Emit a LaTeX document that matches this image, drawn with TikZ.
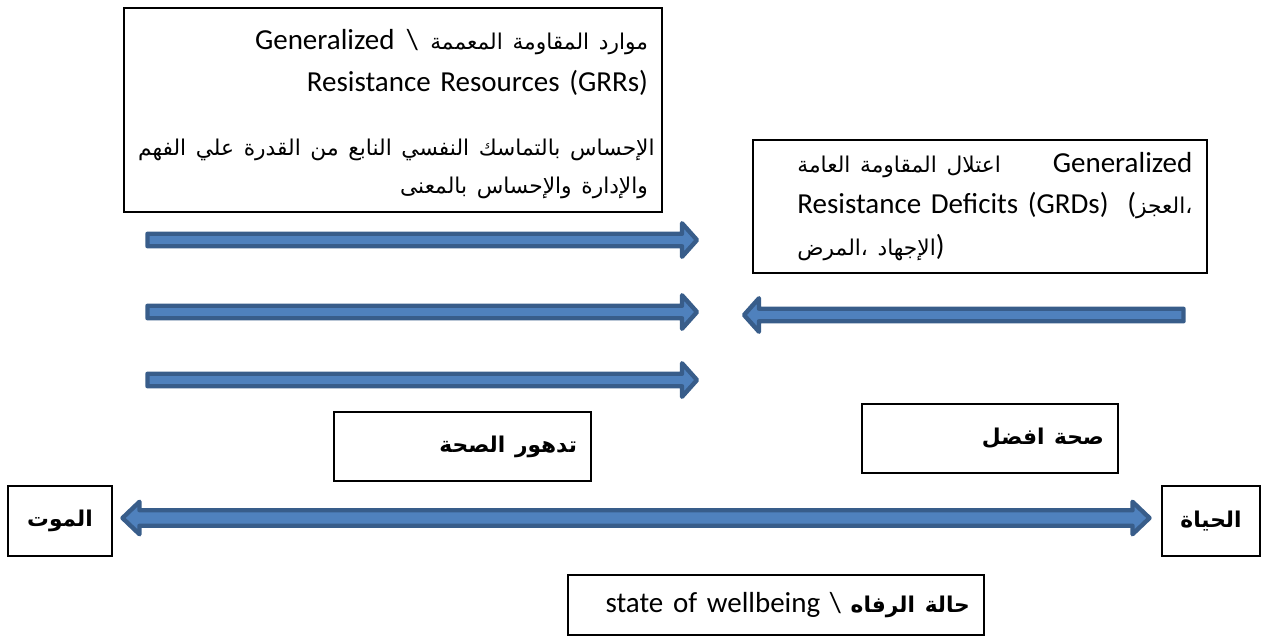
\documentclass[tikz,border=0pt]{standalone}
\usepackage{fontspec}
\setmainfont{Carlito}
\newfontfamily\arabicfont[Script=Arabic,Scale=0.75]{DejaVu Sans}
\TeXXeTstate=1
\usetikzlibrary{positioning}

\definecolor{arrowfill}{HTML}{4F81BD}
\definecolor{arrowedge}{HTML}{385D8A}

\newcommand{\artext}[1]{\mbox{\arabicfont\beginR #1\endR}}
\newcommand{\artextb}[1]{\mbox{\arabicfont\bfseries\beginR #1\endR}}

\tikzset{
  box/.style={draw,line width=1.1pt,inner xsep=0.28cm,inner ysep=0pt},
  blockarrow/.style={fill=arrowfill,draw=arrowedge,line width=2.5pt,line join=round},
  latin/.style={font=\fontsize{16.5}{23.5}\selectfont}
}

\begin{document}
\begin{tikzpicture}[x=0.02cm,y=-0.02cm]
\useasboundingbox (0,0) rectangle (1262,637);

% resources and deficits
\node(grr)[box,latin,align=right,text width=10.2cm,minimum height=4.08cm] at (393,110) {\rule{0pt}{16.5pt}Generalized\hspace{7pt}\textbackslash\hspace{7pt}\artext{موارد المقاومة المعممة}\\
Resistance Resources (GRRs)\\[13pt]
\artext{الإحساس بالتماسك النفسي النابع من القدرة علي الفهم}\\[-1.5pt]
\artext{والإدارة والإحساس بالمعنى}};
\node(grd)[box,minimum width=9.08cm,minimum height=2.66cm] at (980,206.5) {};
\node(grdtext)[latin,inner sep=0pt,text width=7.9cm,align=left,right=0.9cm of grd.west] {\makebox[7.9cm][s]{\artext{اعتلال المقاومة العامة}\hfill\ Generalized}\\
\makebox[7.9cm][s]{Resistance Deficits (GRDs)\hfill\ (\artext{العجز}{\arabicfont ،}}\\
\artext{المرض}{\arabicfont ،} \artext{الإجهاد})};

% arrows
\foreach \y in {240,312,380}
  \draw[blockarrow] (147.5,\y-6.25) -- (682,\y-6.25) -- (682,\y-16.75) -- (697,\y) -- (682,\y+16.75) -- (682,\y+6.25) -- (147.5,\y+6.25) -- cycle;
\draw[blockarrow] (744,315) -- (759,298.25) -- (759,308.75) -- (1183.5,308.75) -- (1183.5,321.25) -- (759,321.25) -- (759,331.75) -- cycle;

% health
\node(decline)[box,latin,align=right,text width=4.58cm,minimum height=1.38cm] at (462.5,446.5) {\artextb{تدهور الصحة}};
\node(better)[box,latin,align=right,text width=4.56cm,minimum height=1.38cm] at (990,438.5) {\artextb{صحة افضل}};

% death - life
\node(death)[box,latin,minimum width=2.08cm,minimum height=1.4cm] at (60,521) {\artextb{الموت}};
\node(life)[box,latin,minimum width=1.96cm,minimum height=1.4cm] at (1211,521) {\artextb{الحياة}};
\draw[blockarrow] (122.5,518) -- (139.5,501.75) -- (139.5,510.25) -- (1132.5,510.25) -- (1132.5,501.75) -- (1149.5,518) -- (1132.5,534.25) -- (1132.5,525.75) -- (139.5,525.75) -- (139.5,534.25) -- cycle;

\node(state)[box,latin,align=right,text width=7.76cm,minimum height=1.2cm] at (776,605) {state of wellbeing \textbackslash\ \artextb{حالة الرفاه}};

\end{tikzpicture}
\end{document}
